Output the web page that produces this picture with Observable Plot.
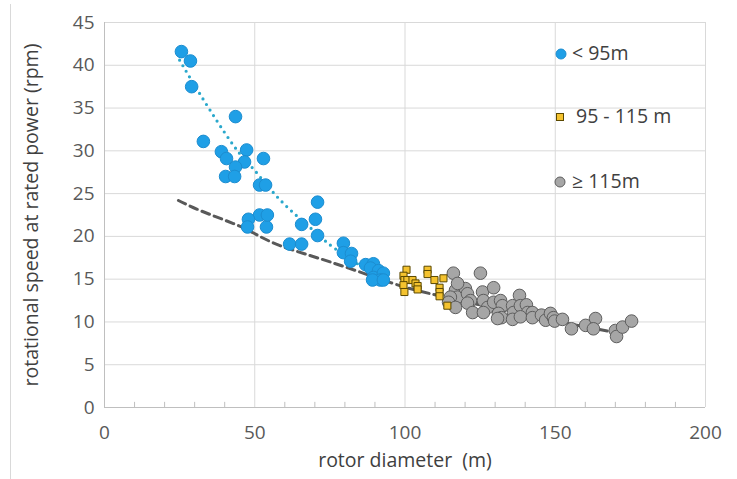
<!DOCTYPE html>
<html>
<head>
<meta charset="utf-8">
<script src="https://cdn.jsdelivr.net/npm/d3@7"></script>
<script src="https://cdn.jsdelivr.net/npm/@observablehq/plot@0.6"></script>
<style>
  html, body { margin: 0; padding: 0; background: #fff; }
  #wrap { position: relative; width: 737px; height: 479px; overflow: hidden; }
  #edge { position: absolute; left: 10px; top: 4px; bottom: 0; width: 1px; background: #d9d9d9; }
  .leg { position: absolute; font-family: "Open Sans", Lato, sans-serif; font-size: 19.5px; color: #404040; white-space: nowrap; line-height: 1; }
  .icon { position: absolute; width: 12px; height: 12px; }
  .icon svg { display: block; }
</style>
</head>
<body>
<div id="wrap"><div id="edge"></div></div>
<script>
// ---- data ----
const blueX = [25.6, 28.6, 29.0, 32.9, 43.6, 38.9, 40.6, 47.3, 46.6, 52.9, 43.6, 40.3, 43.3, 51.6, 53.6,
  70.9, 70.2, 70.9, 65.6, 53.9, 51.6, 54.2, 47.9, 47.6, 61.6, 65.6,
  79.5, 79.5, 82.2, 81.9, 86.9, 89.5, 88.5, 91.2, 89.5, 92.8, 91.8, 89.2, 92.8];
const blueY = [41.6, 40.5, 37.5, 31.1, 34.0, 29.9, 29.1, 30.1, 28.7, 29.1, 28.1, 27.0, 27.0, 26.0, 26.0,
  24.0, 22.0, 20.1, 21.4, 21.1, 22.5, 22.5, 22.0, 21.1, 19.1, 19.1,
  19.2, 18.1, 18.0, 17.1, 16.7, 16.8, 16.3, 16.0, 15.2, 15.7, 14.9, 14.9, 14.9];

const yellowX = [100.5, 99.5, 99.8, 100.8, 99.5, 99.8, 102.5, 103.5, 104.2, 104.2, 107.5, 107.5, 109.8, 112.8, 111.5, 111.5, 111.5, 114.1];
const yellowY = [16.1, 15.4, 14.9, 14.9, 14.3, 13.5, 14.9, 14.5, 14.2, 13.8, 16.1, 15.6, 14.9, 15.1, 14.0, 13.5, 13.0, 11.9];

const grayX = [116.1, 125.1, 116.8, 117.5, 115.1, 114.5, 116.8, 120.1, 120.8, 121.8, 120.8, 122.5, 125.8, 129.5,
  126.1, 127.5, 126.1, 129.5, 131.8, 132.4, 131.1, 132.1, 130.8, 135.8, 136.1, 135.8, 138.1, 138.4, 140.4,
  140.8, 138.4, 142.4, 142.4, 145.4, 146.8, 148.4, 149.4, 149.8, 152.4, 155.4, 160.1, 163.4, 162.7, 170.0,
  170.4, 172.4, 175.4, 117.5];
const grayY = [15.7, 15.7, 13.7, 12.9, 12.9, 12.3, 11.7, 13.9, 13.3, 12.5, 12.2, 11.1, 13.5, 14.0,
  12.5, 11.7, 11.1, 12.3, 12.5, 11.9, 11.0, 10.5, 10.4, 11.9, 11.1, 10.3, 13.1, 11.9, 12.0,
  11.1, 10.6, 11.1, 10.5, 10.8, 10.2, 11.0, 10.5, 10.1, 10.3, 9.2, 9.6, 10.4, 9.2, 9.0,
  8.3, 9.4, 10.1, 14.5];

// trend lines
const blueTrendX = [25, 32, 43, 50, 58.6, 69.5, 76.2, 85, 93];
const blueTrendY = [40.6, 36.5, 30.6, 27.7, 24.2, 20.7, 18.7, 16.6, 14.6];
const grayTrendX = [24.6, 32, 42.9, 49.6, 58.6, 75.2, 95.2, 108.5, 130, 150, 168];
const grayTrendY = [24.2, 23.0, 21.5, 20.4, 18.9, 17.0, 14.6, 13.3, 11.6, 10.1, 8.9];

const xTicks = [0, 50, 100, 150, 200];
const xMinor = [10, 20, 30, 40, 60, 70, 80, 90, 110, 120, 130, 140, 160, 170, 180, 190];
const yTicks = [0, 5, 10, 15, 20, 25, 30, 35, 40, 45];
const xTitle = "rotor diameter  (m)";
const yTitle = "rotational speed at rated power (rpm)";
const legendLabels = ["< 95m", "95 - 115 m", "\u2265 115m"];

const toPts = (xs, ys) => xs.map((x, i) => ({x, y: ys[i]}));
const blue = toPts(blueX, blueY);
const yellow = toPts(yellowX, yellowY);
const gray = toPts(grayX, grayY);
const blueTrend = toPts(blueTrendX, blueTrendY);
const grayTrend = toPts(grayTrendX, grayTrendY);

const chart = Plot.plot({
  width: 737,
  height: 479,
  marginLeft: 104,
  marginRight: 32,
  marginTop: 22,
  marginBottom: 72,
  x: {domain: [0, 200]},
  y: {domain: [0, 45]},
  style: {fontFamily: "'Open Sans', Lato, sans-serif", fontSize: "19px", color: "#595959", background: "transparent"},
  marks: [
    Plot.gridX(xTicks, {stroke: "#d9d9d9", strokeOpacity: 1}),
    Plot.gridY(yTicks, {stroke: "#d9d9d9", strokeOpacity: 1}),
    Plot.ruleX([0], {stroke: "#bfbfbf"}),
    Plot.ruleY([0], {stroke: "#bfbfbf"}),
    Plot.ruleX(xMinor, {y1: 0, y2: 0.6, stroke: "#bfbfbf"}),
    Plot.axisX(xTicks, {tickSize: 0, tickPadding: 18, label: null, fontSize: 19}),
    Plot.axisY(yTicks, {tickSize: 0, tickPadding: 10, label: null, fontSize: 19}),
    Plot.text([xTitle], {frameAnchor: "bottom", dy: 59, text: d => d, fontSize: 19.5, fill: "#404040"}),
    Plot.text([yTitle], {frameAnchor: "left", textAnchor: "middle", dx: -73, rotate: -90, text: d => d, fontSize: 19.5, fill: "#404040"}),
    Plot.line(grayTrend, {x: "x", y: "y", stroke: "#595959", strokeWidth: 3, strokeDasharray: "8,5", curve: "natural"}),
    Plot.line(blueTrend, {x: "x", y: "y", stroke: "#2aa8cc", strokeWidth: 3.2, strokeDasharray: "0,6.5", strokeLinecap: "round", curve: "natural"}),
    Plot.dot(gray, {x: "x", y: "y", r: 6.3, fill: "#a6a6a6", stroke: "#5e5e5e", strokeWidth: 1}),
    Plot.dot(yellow, {x: "x", y: "y", r: 4, symbol: "square", fill: "#f4c22e", stroke: "#5a4800", strokeWidth: 1}),
    Plot.dot(blue, {x: "x", y: "y", r: 6.3, fill: "#1f9fe6", stroke: "#1c8dd0", strokeWidth: 1})
  ]
});
const wrap = document.getElementById("wrap");
wrap.appendChild(chart);
chart.style.position = "absolute";
chart.style.left = "0px";
chart.style.top = "0px";

// legend (HTML overlay)
const legendItems = [
  {label: legendLabels[0], cx: 561, cy: 54, sym: '<circle cx="6" cy="6" r="5" fill="#1f9fe6" stroke="#1c8dd0"/>', textLeft: 572},
  {label: legendLabels[1], cx: 560, cy: 117, sym: '<rect x="2.5" y="2.5" width="7" height="7" fill="#f4c22e" stroke="#5a4800"/>', textLeft: 576},
  {label: legendLabels[2], cx: 560, cy: 182, sym: '<circle cx="6" cy="6" r="5" fill="#a6a6a6" stroke="#5e5e5e"/>', textLeft: 572}
];
for (const it of legendItems) {
  const icon = document.createElement("div");
  icon.className = "icon";
  icon.style.left = (it.cx - 6) + "px";
  icon.style.top = (it.cy - 6) + "px";
  icon.innerHTML = `<svg width="12" height="12">${it.sym}</svg>`;
  wrap.appendChild(icon);
  const t = document.createElement("div");
  t.className = "leg";
  t.style.left = it.textLeft + "px";
  t.style.top = (it.cy - 11) + "px";
  t.textContent = it.label;
  wrap.appendChild(t);
}
</script>
</body>
</html>
